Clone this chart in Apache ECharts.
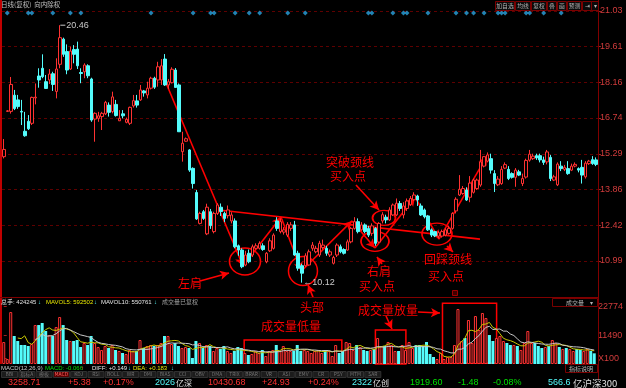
<!DOCTYPE html>
<html><head><meta charset="utf-8">
<script src="https://cdn.jsdelivr.net/npm/echarts@6/dist/echarts.min.js"></script>
<style>html,body{margin:0;padding:0;background:#000;}#c{width:626px;height:388px;}</style>
</head><body><div id="c"></div>
<script>
// ---- DATA ----
// daily candles: [open, close, low, high]
const ohlc = [
[15.18,15.47,15.11,15.89],[17.0,17.02,16.98,17.05],[17.0,18.08,16.91,18.38],[17.65,17.11,17.05,17.86],[17.46,17.19,17.1,17.66],
[17.0,16.97,16.45,17.46],[16.2,16.02,15.98,16.98],[16.6,16.3,16.25,16.85],[16.52,17.56,16.45,17.59],[17.54,17.57,17.28,18.12],
[18.42,18.26,17.95,18.73],[18.73,18.39,18.33,19.29],[18.19,17.92,17.9,18.46],[18.26,18.5,18.1,18.7],[18.51,18.08,17.82,18.59],
[17.8,18.7,17.52,19.13],[18.89,19.96,18.73,20.46],[19.9,19.29,19.19,19.96],[19.4,18.66,18.49,19.69],[18.7,19.42,18.66,19.6],
[19.48,19.29,18.93,19.66],[19.5,18.83,18.7,19.8],[18.56,18.52,18.13,18.73],[18.59,18.86,18.33,18.93],[18.83,18.43,18.33,18.89],
[18.3,16.65,16.58,18.35],[16.69,16.92,15.78,16.96],[16.72,16.82,16.58,16.98],[16.79,16.92,16.25,16.98],[16.9,17.36,16.85,17.42],
[17.25,16.96,16.79,17.36],[16.99,17.58,16.92,17.79],[17.28,16.83,16.79,17.46],[16.62,16.72,16.61,17.05],[16.9,16.82,16.72,17.05],
[16.56,16.68,16.52,16.75],[16.52,17.16,16.45,17.19],[17.22,17.43,17.15,17.66],[17.42,17.25,17.15,17.66],[17.46,17.86,17.42,18.06],
[17.82,17.74,17.59,17.86],[17.66,17.93,17.52,18.19],[17.93,18.33,17.88,18.39],[18.33,17.97,17.9,18.39],[18.26,18.79,17.99,18.99],
[18.26,18.83,18.06,19.1],[19.1,18.06,18.02,19.3],[18.06,18.19,17.9,18.3],[18.15,18.69,18.12,18.77],[18.66,17.96,17.96,18.74],
[18.06,16.18,16.18,18.12],[15.38,15.72,14.98,16.18],[15.8,15.9,15.78,15.95],[15.45,14.64,14.57,15.48],[14.71,14.1,13.9,14.75],
[13.74,12.68,12.64,13.84],[12.5,12.9,12.46,12.97],[12.97,12.7,12.64,13.04],[12.08,13.15,12.03,13.29],[12.97,12.41,12.28,13.08],
[12.17,12.9,12.1,12.97],[12.9,13.24,12.84,13.31],[13.15,12.98,12.8,13.3],[12.9,12.7,12.55,12.97],[12.81,13.04,12.7,13.22],
[12.6,12.84,12.5,12.95],[12.6,11.56,11.5,12.7],[11.6,11.43,11.2,11.65],[11.43,10.76,10.7,11.5],[10.83,11.23,10.78,11.4],
[11.3,10.96,10.9,11.45],[11.23,11.56,11.15,11.65],[11.5,11.6,11.45,11.7],[11.5,11.7,11.45,11.78],[11.6,11.45,11.4,11.7],
[10.96,11.3,10.9,11.35],[11.4,11.8,11.35,11.9],[11.5,12.03,11.45,12.1],[12.6,12.3,12.2,12.75],[12.17,12.57,12.1,12.7],
[12.15,12.24,12.05,12.35],[12.03,12.46,11.95,12.55],[12.3,12.44,12.2,12.55],[12.44,11.23,11.2,12.6],[11.3,10.7,10.6,11.4],
[10.8,10.5,10.12,10.88],[10.8,11.2,10.75,11.3],[10.83,11.36,10.8,11.45],[11.5,11.63,11.4,11.75],[11.36,11.5,11.3,11.6],
[11.23,11.7,11.15,11.8],[11.53,11.63,11.45,11.85],[11.5,11.3,11.2,11.6],[11.23,11.36,11.15,11.45],[10.9,11.13,10.85,11.2],
[11.23,11.63,11.15,11.7],[11.56,11.36,11.3,11.65],[11.45,11.3,11.25,11.5],[11.43,11.76,11.4,11.85],[11.76,12.3,11.7,12.35],
[12.3,12.57,12.25,12.75],[12.57,12.17,12.1,12.7],[12.24,12.44,12.2,12.55],[12.44,12.17,12.1,12.5],[12.3,12.03,11.95,12.4],
[12.1,12.4,12.0,12.5],[12.3,11.7,11.6,12.35],[11.75,12.5,11.7,12.55],[12.6,12.85,12.5,12.95],[12.75,12.64,12.5,12.85],
[12.64,13.04,12.6,13.15],[12.84,13.24,12.8,13.3],[12.84,13.31,12.8,13.5],[13.3,13.1,13.0,13.4],[12.84,13.2,12.7,13.35],
[13.1,13.4,13.0,13.5],[13.25,13.5,13.2,13.6],[13.45,13.64,13.4,13.75],[13.6,13.44,13.2,13.65],[13.2,12.84,12.8,13.3],
[13.04,12.77,12.7,13.1],[12.8,12.24,12.2,12.84],[12.24,12.03,11.95,12.3],[12.17,12.0,11.95,12.2],[11.99,12.13,11.9,12.2],
[11.99,12.17,11.93,12.25],[12.03,12.24,11.98,12.3],[12.1,12.3,12.05,12.4],[12.3,12.9,12.25,12.95],[13.0,13.47,12.9,13.55],
[13.64,13.87,13.6,14.44],[13.7,13.9,13.65,14.0],[13.84,13.44,13.4,13.95],[13.55,14.12,13.35,14.4],[13.75,14.24,13.7,14.3],
[13.9,14.24,13.85,14.3],[14.04,14.97,13.97,15.45],[14.8,15.18,14.75,15.2],[15.0,15.25,14.95,15.35],[15.1,14.64,14.5,15.3],
[14.5,14.1,13.76,14.64],[14.05,14.28,14.0,14.4],[14.1,14.67,14.05,14.8],[14.72,14.86,14.68,14.95],[14.67,14.3,14.24,14.8],
[14.5,14.35,14.3,14.55],[14.35,14.64,13.97,14.72],[14.57,14.44,14.4,14.65],[14.1,14.3,14.0,14.5],[14.36,15.03,14.3,15.1],
[15.04,15.28,14.98,15.45],[15.1,15.2,15.05,15.3],[15.22,15.13,15.05,15.3],[15.22,15.05,14.95,15.3],[15.05,14.95,14.85,15.18],
[14.97,15.37,14.87,15.45],[15.15,14.3,14.2,15.25],[14.24,14.37,14.2,14.45],[14.05,14.88,14.0,14.95],[14.8,14.7,14.6,15.0],
[14.67,14.75,14.6,14.85],[14.7,14.5,14.45,15.0],[14.64,14.8,14.6,14.9],[14.8,14.87,14.75,14.95],[14.7,14.64,14.55,14.75],
[14.75,14.44,14.1,15.05],[14.37,14.92,14.3,15.0],[14.9,15.0,14.85,15.05],[15.06,14.9,14.85,15.2],[15.05,14.87,14.8,15.15]
];
// volume (x100)
const volumes = [
8730,1990,20640,11120,9130,7540,7540,7150,7940,15480,15480,16280,13100,11510,11120,14690,18660,15480,9530,9130,
9130,9530,6750,8340,7540,11120,8340,6750,5560,7150,6350,7540,5560,5160,4370,3970,5560,5160,5160,9530,
6350,7150,7540,7150,7540,8340,11120,11120,7940,8340,7150,6350,6750,6350,2380,9130,8340,6350,7540,7150,
5160,6350,5960,7150,5160,4370,5160,6750,6350,4370,3570,3970,5160,4370,5560,3180,5160,5560,7540,5160,
7150,5160,5160,5160,7540,5160,5560,5160,4370,5160,5560,4370,5560,5160,3180,7540,4370,5160,8730,8340,
5560,7540,6750,5560,5160,5560,5960,10320,7150,7150,8730,7540,5160,5160,7540,5560,8730,6350,7540,7540,
7150,8730,3970,2780,1990,4370,1990,2780,2780,7540,21840,9130,10320,17470,8340,19060,13500,20250,18260,11510,
9130,10320,11120,9130,8340,7540,7540,7150,5560,8340,13100,8340,8340,7150,6350,6750,7150,9530,8340,6750,
5960,6350,5960,5160,5960,5560,5160,5960,5160,4242
];
const priceTicks = [21.03, 19.61, 18.16, 16.74, 15.29, 13.86, 12.42, 10.99];
const volTicks = [22774, 11490];
const eventIdx = [1,7,8,14,19,22,42,54,59,60,66,70,73,81,86,104,105,111,114,115,121,129,132,134,137,141,142,143,149,150,154,159];
const highTag = [16, 20.46];
const lowTag = [85, 10.12];
// annotation geometry (x = day index, y = price)
const trendPts = [[44.85,18.62],[68.24,10.79],[79.08,12.76],[84.93,10.59],[99.33,12.60],[105.89,11.51],[117.30,13.56],[124.14,11.87],[137.83,15.21]];
const neckline = [[61.39,13.04],[135.84,11.87]];
const pointerArrows = [
  [55.97,10.19,64.25,10.51],   // 左肩
  [88.21,9.54,86.78,10.03],    // 头部
  [107.89,10.87,106.46,11.15], // 右肩
  [100.47,14.04,107.03,13.04], // 突破颈线
  [126.43,11.59,128.14,11.35], // 回踩颈线
  [118.15,8.94,124.43,8.90],   // 成交量放量 ->
  [109.03,8.78,110.74,8.26]    // 成交量放量 v
];
// ellipses: [x, price, widthPx, heightPx]
const ellipses = [[68.81,10.97,31,27],[85.35,10.59,29,29],[105.89,11.78,28,20],[108.46,12.72,23,15],[123.57,12.07,30,22]];
// volume boxes: [x1, vol1, x2, vol2]
const volBoxes = [[68.81,9535,96.76,280],[106.37,13500,115.1,0],[125.57,24100,141.06,280]];

// ---- build ----
const N = ohlc.length;
const cats = ohlc.map((d, i) => String(i));
const RED = '#ff3232', CYAN = '#54fcfc', ANN = '#ff0000';
function ma(arr, n) {
  return arr.map((v, i) => {
    if (i < n - 1) return null;
    let s = 0; for (let k = i - n + 1; k <= i; k++) s += arr[k];
    return Math.round(s / n);
  });
}
const volData = volumes.map((v, i) => {
  const d = ohlc[i];
  const up = d[1] > d[0] || (d[1] === d[0] && i > 0 && d[1] >= ohlc[i - 1][1]);
  return { value: v, itemStyle: up ? { color: '#000', borderColor: RED, borderWidth: 1 } : { color: CYAN, borderWidth: 0 } };
});
const cjk = '"Noto Sans CJK SC", sans-serif';
const lat = '"Liberation Sans", "DejaVu Sans", sans-serif';
function T(x, y, text, fill, size, font, align) {
  return { type: 'text', x: x, y: y, silent: true, z: 100,
    style: { text: text, fill: fill, font: size + 'px ' + (font || cjk), align: align || 'left', textAlign: align || 'left', verticalAlign: 'middle', textVerticalAlign: 'middle' } };
}
function R(x, y, w, h, stroke, fill) {
  return { type: 'rect', silent: true, z: 90, shape: { x: x, y: y, width: w, height: h }, style: { fill: fill || 'none', stroke: stroke, lineWidth: 1 } };
}
function L(x1, y1, x2, y2, stroke, w, dash) {
  return { type: 'line', silent: true, z: 95, shape: { x1: x1, y1: y1, x2: x2, y2: y2 }, style: { stroke: stroke, lineWidth: w || 1, lineDash: dash || null } };
}
const ellipsePath = 'path://M0,50 A50,50 0 1,1 100,50 A50,50 0 1,1 0,50 Z';

const graphics = [
  L(1, 0, 1, 364, '#c00000', 2),
  L(598.5, 0, 598.5, 380, '#800000', 1),
  L(0, 297.5, 598, 297.5, '#800000', 1),
  T(1, 5, '日线(复权)  向内除权', '#c0c0c0', 6.5),
];
// top right buttons
[[495,19,'加自选'],[515,15,'均线'],[531,15,'复权'],[547,9,'叠'],[557,9,'画'],[567,14,'预测'],[582,9,'⇥'],[591,7,'▾']].forEach(b => {
  graphics.push(R(b[0] + 0.5, 1.5, b[1], 9, '#7a0000', '#0a0a0a'));
  graphics.push(T(b[0] + b[1] / 2 + 0.5, 6, b[2], '#b4b4b4', 5.8, cjk, 'center'));
});
// volume header
graphics.push(
  T(1, 302, '总手', '#e0e0e0', 6), T(13, 302, ': 424245', '#e0e0e0', 6, lat), T(38, 302, '↓', CYAN, 6, lat),
  T(46, 302, 'MAVOL5: 592502', '#e6e600', 6, lat), T(94, 302, '↓', CYAN, 6, lat),
  T(101, 302, 'MAVOL10: 550761', '#e6e6e6', 6, lat), T(154, 302, '↓', CYAN, 6, lat),
  T(162, 302, '成交量已复权', '#a0a0a0', 6),
  R(552.5, 298.5, 45, 8, '#7a0000'), T(566, 302.5, '成交量', '#b4b4b4', 6), T(590, 302.5, '▾', '#b4b4b4', 6),
  R(565.5, 364.5, 32, 8, '#7a0000'), T(581, 368.5, '指标说明', '#b4b4b4', 6, cjk, 'center')
);
// MACD line
graphics.push(
  T(1, 368, 'MACD(12,26,9)', '#c8c8c8', 6, lat), T(45, 368, 'MACD: -0.066', '#00e000', 6, lat), T(81, 368, '↑', RED, 6, lat),
  T(92, 368, 'DIFF: +0.149', '#e6e6e6', 6, lat), T(128, 368, '↓', CYAN, 6, lat),
  T(133, 368, 'DEA: +0.183', '#e6e600', 6, lat), T(171, 368, '↓', CYAN, 6, lat)
);
// indicator tabs
const tabs = ['BBI','指标A','模板','MACD','KDJ','RSI','BOLL','WR','DMI','BIAS','CCI','OBV','DMA','TRIX','BRAR','VR','ASI','EMV','CR','PSY','MTM','SAR'];
tabs.forEach((t, i) => {
  const x = 1 + i * 17.3;
  graphics.push(R(x + 0.5, 371.5, 16, 6, '#303030', t === 'MACD' ? '#5a0000' : '#1c1c1c'));
  graphics.push(T(x + 8.5, 374.5, t, t === 'MACD' ? '#ff6060' : '#707070', 5, cjk, 'center'));
});
// status bar
graphics.push(
  T(8, 383, '3258.71', RED, 9, lat), T(68, 383, '+5.38', RED, 9, lat), T(103, 383, '+0.17%', RED, 9, lat),
  T(155, 383, '2026', CYAN, 9, lat), T(176, 383, '亿深', '#e0e0e0', 8),
  T(208, 383, '10430.68', RED, 9, lat), T(262, 383, '+24.93', RED, 9, lat), T(308, 383, '+0.24%', RED, 9, lat),
  T(352, 383, '2322', CYAN, 9, lat), T(373, 383, '亿创', '#e0e0e0', 8),
  T(410, 383, '1919.60', '#00e000', 9, lat), T(458, 383, '-1.48', '#00e000', 9, lat), T(493, 383, '-0.08%', '#00e000', 9, lat),
  T(548, 383, '566.6', CYAN, 9, lat), T(573, 383, '亿沪深300', '#e0e0e0', 9.5)
);
// annotation texts
const annFont = 12;
[[190,283,'左肩'],[312,307,'头部'],[379,271,'右肩'],[377,286.5,'买入点'],[350,162,'突破颈线'],[348,176.5,'买入点'],
 [448,259,'回踩颈线'],[446,276,'买入点'],[291,326,'成交量低量'],[388,310,'成交量放量']].forEach(a => {
  graphics.push(T(a[0], a[1], a[2], ANN, annFont, cjk, 'center'));
});
graphics.push(R(452.5, 290.5, 5, 5, '#a00000', '#400000'));

const arrowLines = [];
for (let k = 0; k < trendPts.length - 1; k++) {
  arrowLines.push([{ coord: trendPts[k] }, { coord: trendPts[k + 1] }]);
}
arrowLines.push([{ coord: neckline[0], symbol: 'none' }, { coord: neckline[1], symbol: 'none' }]);
pointerArrows.forEach(a => arrowLines.push([{ coord: [a[0], a[1]] }, { coord: [a[2], a[3]] }]));

const option = {
  backgroundColor: '#000',
  animation: false,
  grid: [
    { left: 2, width: 596, top: 11, height: 281 },
    { left: 2, width: 596, top: 302, height: 62 },
    { left: 2, width: 596, top: 11, height: 377 }
  ],
  xAxis: [
    { type: 'category', gridIndex: 0, data: cats, show: false, boundaryGap: true },
    { type: 'category', gridIndex: 1, data: cats, show: false, boundaryGap: true },
    { type: 'value', gridIndex: 2, min: -0.5, max: N - 0.5, show: false },
    { type: 'value', gridIndex: 1, min: -0.5, max: N - 0.5, show: false }
  ],
  yAxis: [
    { type: 'value', gridIndex: 0, position: 'right', min: 21.03 - 281 / 24.9, max: 21.03, scale: true,
      axisLine: { show: true, lineStyle: { color: '#800000' } },
      axisTick: { show: true, length: 3, customValues: priceTicks, lineStyle: { color: '#a02020' } },
      axisLabel: { customValues: priceTicks, color: '#d23c3c', fontSize: 9, fontFamily: 'Liberation Sans', margin: 2, formatter: v => v.toFixed(2) },
      splitLine: { show: true, lineStyle: { color: '#5e0000', type: [3, 3], width: 1 } } },
    { type: 'value', gridIndex: 1, position: 'right', min: 0, max: 62 * 397.3,
      axisLine: { show: false },
      axisTick: { show: true, length: 3, customValues: [2100].concat(volTicks), lineStyle: { color: '#a02020' } },
      axisLabel: { customValues: [2100].concat(volTicks), color: '#d23c3c', fontSize: 9, fontFamily: 'Liberation Sans', margin: 2,
        formatter: v => (v === 2100 ? 'X100' : String(v)) },
      splitLine: { show: false } },
    { type: 'value', gridIndex: 2, min: 21.03 - 377 / 24.9, max: 21.03, show: false }
  ],
  series: [
    { type: 'candlestick', xAxisIndex: 0, yAxisIndex: 0, data: ohlc, barWidth: 3, z: 5,
      itemStyle: { color: '#000', color0: CYAN, borderColor: RED, borderColor0: CYAN, borderWidth: 1 },
      markPoint: { silent: true, animation: false, data: [
        { coord: highTag, value: highTag[1], symbol: 'rect', symbolSize: [5, 1], symbolOffset: [3, 0], itemStyle: { color: '#c8c8c8' },
          label: { show: true, position: 'right', distance: 1, formatter: '20.46', color: '#c8c8c8', fontSize: 9, fontFamily: 'Liberation Sans' } },
        { coord: lowTag, value: lowTag[1], symbol: 'rect', symbolSize: [1, 1], itemStyle: { color: 'rgba(0,0,0,0)' },
          label: { show: true, position: 'right', distance: 1, formatter: '←10.12', color: '#c8c8c8', fontSize: 9, fontFamily: 'Liberation Sans' } }
      ] } },
    { type: 'scatter', xAxisIndex: 0, yAxisIndex: 0, data: eventIdx.map(i => [i, 20.95]), symbol: 'diamond', symbolSize: 5,
      itemStyle: { color: '#2aa4e0' }, silent: true, z: 6 },
    { type: 'bar', xAxisIndex: 1, yAxisIndex: 1, data: volData, barWidth: 3, silent: true },
    { type: 'line', xAxisIndex: 1, yAxisIndex: 1, data: ma(volumes, 5), showSymbol: false, silent: true,
      lineStyle: { color: '#c8c800', width: 1 }, z: 8 },
    { type: 'line', xAxisIndex: 1, yAxisIndex: 1, data: ma(volumes, 10), showSymbol: false, silent: true,
      lineStyle: { color: '#c8c8c8', width: 1 }, z: 8 },
    { type: 'line', xAxisIndex: 3, yAxisIndex: 1, data: [], silent: true, z: 20,
      markArea: { silent: true, animation: false, itemStyle: { color: 'rgba(0,0,0,0)', borderColor: ANN, borderWidth: 1.5 },
        data: volBoxes.map(b => [{ coord: [b[0], b[1]] }, { coord: [b[2], b[3]] }]) } },
    { type: 'line', xAxisIndex: 2, yAxisIndex: 2, data: [], silent: true, z: 20,
      markLine: { silent: true, animation: false, symbol: ['none', 'arrow'], symbolSize: [7, 9], label: { show: false },
        lineStyle: { color: ANN, width: 1.6, type: 'solid' }, data: arrowLines },
      markPoint: { silent: true, animation: false, label: { show: false },
        data: ellipses.map(e => ({ coord: [e[0], e[1]], symbol: ellipsePath, symbolSize: [e[2], e[3]], symbolKeepAspect: false,
          itemStyle: { color: 'rgba(0,0,0,0)', borderColor: ANN, borderWidth: 1.5 } })) } }
  ],
  graphic: graphics
};
const chart = echarts.init(document.getElementById('c'), null, { width: 626, height: 388 });
chart.setOption(option);
</script>
</body></html>
